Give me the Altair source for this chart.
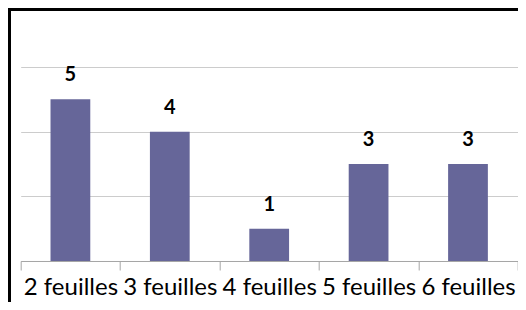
import altair as alt
import pandas as pd

categories = ["2 feuilles", "3 feuilles", "4 feuilles", "5 feuilles", "6 feuilles"]
values = [5, 4, 1, 3, 3]

df = pd.DataFrame({"cat": categories, "val": values})

PLOT_W = 497
PLOT_H = 194

x = alt.X("cat:N", sort=categories, title=None,
          scale=alt.Scale(paddingInner=0, paddingOuter=0),
          axis=alt.Axis(labelAngle=0, labelFont="Lato", labelFontSize=24,
                        labelColor="black", labelBaseline="alphabetic",
                        labelPadding=25, tickBand="extent", tickSize=9,
                        tickColor="#a6a6a6", domainColor="#a6a6a6",
                        labelOverlap=False, labelBound=False, grid=False))
y = alt.Y("val:Q", title=None,
          scale=alt.Scale(domain=[0, 6], nice=False),
          axis=alt.Axis(values=[0, 2, 4, 6], labels=False, ticks=False,
                        domain=False, grid=True, gridColor="#cccccc", gridWidth=1))

base = alt.Chart(df)

bars = base.mark_bar(color="#666699", width=alt.RelativeBandSize(0.4)).encode(x=x, y=y)
labels = base.mark_text(font="Lato", fontWeight="bold", fontSize=20,
                        baseline="alphabetic", dy=-18, color="black").encode(
    x=alt.X("cat:N", sort=categories), y="val:Q", text="val:Q")

frame = alt.Chart(pd.DataFrame({"a": [0]})).mark_rect(
    fillOpacity=0, stroke="black", strokeWidth=3).encode(
    x=alt.value(-11.2), x2=alt.value(PLOT_W + 60),
    y=alt.value(-57.5), y2=alt.value(PLOT_H + 120))

chart = alt.layer(bars, labels, frame).properties(
    width=PLOT_W, height=PLOT_H,
    autosize=alt.AutoSizeParams(type="none"),
    padding={"left": 12.7, "top": 59, "right": 0, "bottom": 41},
).configure_view(stroke=None)

chart.save("out.html", embed_options={"renderer": "svg", "actions": False})
